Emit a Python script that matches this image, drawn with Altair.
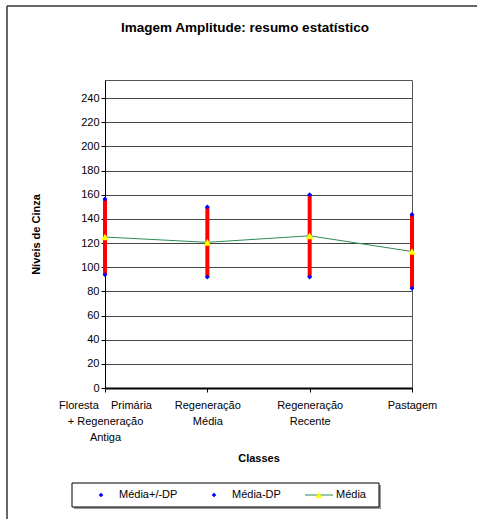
import altair as alt
import pandas as pd

categories = ["Floresta Primária + Regeneração Antiga", "Regeneração Média", "Regeneração Recente", "Pastagem"]
cat_labels = ["Floresta\u00a0\u00a0\u00a0\u00a0Primária|+ Regeneração|Antiga", "Regeneração|Média", "Regeneração|Recente", "Pastagem"]
media_mais_dp = [156.5, 149.8, 160.0, 143.7]
media_menos_dp = [93.8, 91.9, 91.9, 82.5]
media = [125.0, 120.6, 126.0, 113.0]
y_ticks = list(range(0, 241, 20))

FONT = "Liberation Sans"
W, H = 307, 308

df = pd.DataFrame({
    "cat": categories,
    "up": media_mais_dp,
    "lo": media_menos_dp,
    "mean": media,
})
label_expr = " : ".join(
    [f"datum.value === '{c}' ? split('{l}', '|')" for c, l in zip(categories, cat_labels)]
) + " : datum.label"

x_axis = alt.Axis(
    title="Classes",
    titleFont=FONT, titleFontSize=11, titleFontWeight="bold", titleColor="black",
    titleY=70, titleBaseline="middle",
    labelExpr=label_expr,
    labelFont=FONT, labelFontSize=11, labelColor="black", labelAngle=0,
    labelLineHeight=16, labelPadding=7, labelBaseline="top", labelOverlap=False,
    tickSize=4, tickColor="black", domainColor="black", domainWidth=2,
    grid=False,
)
x_scale = alt.Scale(type="point", padding=0)
y_scale = alt.Scale(domain=[0, 255], nice=False, zero=True)
y_axis = alt.Axis(
    values=y_ticks, title="Níveis de Cinza",
    titleFont=FONT, titleFontSize=11, titleFontWeight="bold", titleColor="black",
    titleX=-69, titleY=154, titleBaseline="middle", titleAngle=270, titleAlign="center",
    labelFont=FONT, labelFontSize=11, labelColor="black", labelPadding=2, labelOverlap=False,
    tickSize=4, tickColor="black", domainColor="black",
    grid=True, gridColor="#444", gridWidth=1,
)


def X():
    return alt.X("cat:N", sort=categories, scale=x_scale, axis=x_axis)


def Y(field):
    return alt.Y(field, scale=y_scale, axis=y_axis)


base = alt.Chart(df)

bars = base.mark_rule(color="#ff0000", strokeWidth=4).encode(
    x=X(), y=Y("lo:Q"), y2="up:Q",
)
line = base.mark_line(color="#2e8b57", strokeWidth=1).encode(x=X(), y=Y("mean:Q"))
pts_up = base.mark_point(shape="diamond", filled=True, color="#0000ff", size=24, opacity=1).encode(
    x=X(), y=Y("up:Q")
)
pts_lo = base.mark_point(shape="diamond", filled=True, color="#0000ff", size=24, opacity=1).encode(
    x=X(), y=Y("lo:Q")
)
tri = base.mark_point(shape="triangle-up", filled=True, color="#ffff00", size=60, opacity=1).encode(
    x=X(), y=Y("mean:Q")
)

one = alt.Data(values=[{"a": 1}])

title = alt.Chart(one).mark_text(
    text="Imagem Amplitude: resumo estatístico", font=FONT, fontSize=13.5,
    fontWeight="bold", color="black", align="center", baseline="middle",
).encode(x=alt.value(140), y=alt.value(-52))

border_left = alt.Chart(one).mark_rule(color="#333", strokeWidth=1.5).encode(
    x=alt.value(-98), y=alt.value(-74), y2=alt.value(460)
)
border_top = alt.Chart(one).mark_rule(color="#333", strokeWidth=1.5).encode(
    x=alt.value(-98), x2=alt.value(400), y=alt.value(-74)
)

# legend
leg_shadow = alt.Chart(one).mark_rect(fill="#999").encode(
    x=alt.value(-31), x2=alt.value(276), y=alt.value(405), y2=alt.value(429)
)
leg_box = alt.Chart(one).mark_rect(fill="white", stroke="black", strokeWidth=1).encode(
    x=alt.value(-33), x2=alt.value(274), y=alt.value(403), y2=alt.value(427)
)
leg_d1 = alt.Chart(one).mark_point(shape="diamond", filled=True, color="#0000ff", size=22, opacity=1).encode(
    x=alt.value(-4), y=alt.value(415)
)
leg_d2 = alt.Chart(one).mark_point(shape="diamond", filled=True, color="#0000ff", size=22, opacity=1).encode(
    x=alt.value(109), y=alt.value(415)
)
leg_line = alt.Chart(one).mark_rule(color="#2e8b57", strokeWidth=1).encode(
    x=alt.value(200), x2=alt.value(228), y=alt.value(415)
)
leg_tri = alt.Chart(one).mark_point(shape="triangle-up", filled=True, color="#ffff00", size=45, opacity=1).encode(
    x=alt.value(214), y=alt.value(415)
)
leg_t1 = alt.Chart(one).mark_text(text="Média+/-DP", font=FONT, fontSize=11, color="black", align="left", baseline="middle").encode(
    x=alt.value(14), y=alt.value(415)
)
leg_t2 = alt.Chart(one).mark_text(text="Média-DP", font=FONT, fontSize=11, color="black", align="left", baseline="middle").encode(
    x=alt.value(127), y=alt.value(415)
)
leg_t3 = alt.Chart(one).mark_text(text="Média", font=FONT, fontSize=11, color="black", align="left", baseline="middle").encode(
    x=alt.value(231), y=alt.value(415)
)

chart = alt.layer(
    border_left, border_top, title,
    bars, line, pts_up, pts_lo, tri,
    leg_shadow, leg_box, leg_d1, leg_d2, leg_line, leg_tri, leg_t1, leg_t2, leg_t3,
).properties(
    width=W, height=H,
    autosize=alt.AutoSizeParams(type="none"),
    padding={"left": 105, "top": 80, "right": 65, "bottom": 131},
    background="white",
).configure_view(
    stroke="#555", strokeWidth=1
)

chart.save("out.html", embed_options={"renderer": "svg", "actions": False})
